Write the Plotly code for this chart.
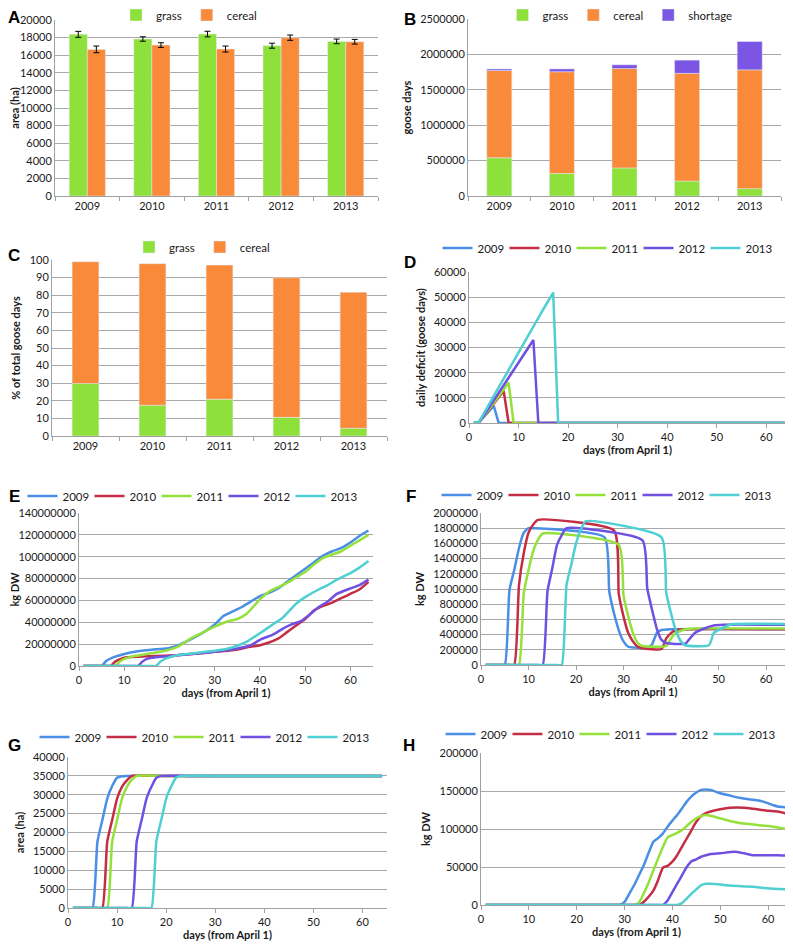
import plotly.graph_objects as go

# reference picture size; the page body adds an 8px margin, so the figure is drawn
# 8px smaller and every pixel position below is shifted by that offset
W, H = 793, 947
OFF = 8
FW, FH = W - OFF, H - OFF

years = ["2009", "2010", "2011", "2012", "2013"]

# A: area (ha) of grass and cereal with error bars
area_grass = [18370, 17840, 18400, 17080, 17570]
area_grass_err = [340, 250, 320, 285, 265]
area_cereal = [16660, 17150, 16700, 17990, 17530]
area_cereal_err = [380, 265, 340, 300, 265]

# B: goose days
gd_grass = [540000, 318000, 397000, 212000, 104000]
gd_cereal = [1232000, 1437000, 1403000, 1520000, 1678000]
gd_shortage = [22000, 40000, 53000, 187000, 400000]

# C: % of total goose days
pct_grass = [29.8, 17.5, 20.9, 10.6, 4.4]
pct_cereal = [69.2, 80.4, 76.2, 79.3, 77.3]

# D: daily deficit (goose days)
d_days_2009 = [1, 2, 3, 4, 5, 6, 64]
d_vals_2009 = [0, 300, 2400, 4600, 6800, 0, 0]
d_days_2010 = [1, 2, 3, 4, 5, 6, 7, 8, 64]
d_vals_2010 = [0, 300, 2600, 5100, 7600, 10100, 12700, 0, 0]
d_days_2011 = [1, 2, 3, 4, 5, 6, 7, 8, 9, 64]
d_vals_2011 = [0, 300, 2700, 5300, 8000, 10700, 13300, 16000, 0, 0]
d_days_2012 = [1, 2, 3, 4, 5, 6, 7, 8, 9, 10, 11, 12, 13, 14, 64]
d_vals_2012 = [0, 300, 3000, 6000, 9000, 12000, 15000, 18000, 21000, 24000, 27000, 30000, 33000, 0, 0]
d_days_2013 = [1, 2, 3, 4, 5, 6, 7, 8, 9, 10, 11, 12, 13, 14, 15, 16, 17, 18, 64]
d_vals_2013 = [0, 400, 3800, 7300, 10800, 14300, 17800, 21300, 24800, 28200, 31600, 35000,
               38400, 41800, 45200, 48600, 51800, 0, 0]

# E: cumulative consumption (kg DW, millions)
e_days_2009 = [1, 4, 5, 6, 8, 10, 13, 15, 18, 20, 22, 25, 28, 30, 32, 34, 36, 38, 40, 42, 44, 46, 48, 50, 52, 54, 56, 58, 60, 62, 64]
e_vals_2009 = [0, 0, 0, 4.5, 8.5, 11, 13.5, 14.5, 15.5, 16.5, 19, 25, 32, 38, 46, 50, 54, 59, 64, 67, 71, 77, 83, 89, 95, 101, 105, 108, 113, 119, 124]
e_days_2010 = [1, 6, 7, 8, 9, 10, 13, 15, 20, 25, 30, 33, 35, 37, 40, 42, 44, 46, 48, 50, 52, 54, 56, 58, 60, 62, 64]
e_vals_2010 = [0, 0, 0, 4, 6, 7.5, 8.5, 9, 9.5, 11, 13, 14, 15, 17, 19, 21.5, 25, 31, 37, 43, 51, 55, 58, 62, 66, 70, 77]
e_days_2011 = [1, 7, 8, 9, 10, 12, 15, 18, 20, 22, 25, 28, 30, 33, 35, 37, 40, 42, 44, 46, 48, 50, 52, 54, 56, 58, 60, 62, 64]
e_vals_2011 = [0, 0, 0, 4, 6.5, 9, 11, 13, 15, 18, 26, 32, 36, 41, 43, 47.5, 61, 68, 72, 76, 81, 86, 93, 99, 102, 105, 110, 115, 120]
e_days_2012 = [1, 12, 13, 14, 15, 17, 20, 25, 30, 35, 38, 40, 43, 45, 47, 49, 51, 53, 55, 57, 60, 62, 64]
e_vals_2012 = [0, 0, 0, 4, 6.5, 8, 9, 11, 13, 16, 19, 24, 29, 34, 38, 41, 47, 54, 59, 66, 71, 74, 79]
e_days_2013 = [1, 16, 17, 18, 19, 20, 22, 25, 30, 33, 35, 37, 40, 43, 45, 48, 50, 53, 55, 57, 60, 62, 64]
e_vals_2013 = [0, 0, 0, 4, 6.5, 8, 10, 11.5, 14, 16, 18.5, 22, 30, 38.5, 44, 57, 63, 70, 74, 79, 85, 90, 96]

# F: standing biomass (kg DW, millions)
f_days_2009 = [1, 4, 5, 6, 7, 8, 9, 10, 11, 26, 27, 28, 29, 30, 31, 32, 35, 36, 37, 38, 40, 64]
f_vals_2009 = [0, 0, 0, 0.99, 1.25, 1.54, 1.74, 1.80, 1.80, 1.68, 0.97, 0.68, 0.46, 0.31, 0.24, 0.23, 0.23, 0.27, 0.42, 0.46, 0.47, 0.47]
f_days_2010 = [1, 6, 7, 8, 9, 10, 11, 12, 28, 29, 30, 31, 32, 33, 34, 38, 39, 40, 41, 43, 64]
f_vals_2010 = [0, 0, 0, 1.05, 1.47, 1.74, 1.85, 1.91, 1.77, 0.94, 0.64, 0.42, 0.31, 0.24, 0.22, 0.21, 0.35, 0.42, 0.46, 0.47, 0.47]
f_days_2011 = [1, 7, 8, 9, 10, 11, 12, 13, 29, 30, 31, 32, 33, 34, 39, 40, 41, 43, 45, 64]
f_vals_2011 = [0, 0, 0, 0.94, 1.25, 1.50, 1.65, 1.73, 1.58, 0.92, 0.64, 0.42, 0.29, 0.25, 0.25, 0.35, 0.42, 0.47, 0.48, 0.48]
f_days_2012 = [1, 12, 13, 14, 15, 16, 17, 18, 34, 35, 36, 37, 38, 39, 43, 44, 45, 47, 49, 51, 64]
f_vals_2012 = [0, 0, 0, 0.97, 1.27, 1.58, 1.71, 1.80, 1.64, 1.01, 0.73, 0.48, 0.33, 0.29, 0.28, 0.35, 0.42, 0.48, 0.52, 0.53, 0.53]
f_days_2013 = [1, 16, 17, 18, 19, 20, 21, 22, 38, 39, 40, 41, 42, 43, 48, 49, 50, 52, 53, 64]
f_vals_2013 = [0, 0, 0, 1.05, 1.32, 1.60, 1.78, 1.89, 1.68, 0.95, 0.68, 0.46, 0.32, 0.26, 0.26, 0.42, 0.46, 0.52, 0.54, 0.54]

# G: area available (ha)
g_days_2009 = [1, 4, 5, 6, 7, 8, 9, 10, 11, 12, 20, 64]
g_vals_2009 = [0, 0, 0, 17600, 23300, 29000, 32300, 34500, 34900, 35000, 35000, 35000]
g_days_2010 = [1, 6, 7, 8, 9, 10, 11, 12, 13, 20, 64]
g_vals_2010 = [0, 0, 0, 17600, 23300, 29000, 32100, 33800, 35000, 35000, 35000]
g_days_2011 = [1, 7, 8, 9, 10, 11, 12, 13, 14, 20, 64]
g_vals_2011 = [0, 0, 0, 17600, 23300, 29000, 32100, 34000, 35000, 35000, 35000]
g_days_2012 = [1, 12, 13, 14, 15, 16, 17, 18, 19, 25, 64]
g_vals_2012 = [0, 0, 0, 17600, 23300, 29000, 32100, 34500, 35000, 35000, 35000]
g_days_2013 = [1, 16, 17, 18, 19, 20, 21, 22, 23, 30, 64]
g_vals_2013 = [0, 0, 0, 17600, 23300, 29000, 32100, 34500, 35000, 35000, 35000]

# H: kg DW (thousands)
h_days_2009 = [1, 28, 29, 30, 31, 32, 33, 34, 35, 36, 37, 38, 39, 40, 41, 42, 43, 44, 45, 46, 47, 48, 50, 52, 54, 56, 58, 59, 61, 62, 64]
h_vals_2009 = [0, 0, 0, 4, 15, 26, 39, 52, 68, 83, 88, 94, 103, 111, 118.5, 127, 136, 143, 148, 151.5, 152, 151.5, 147, 144, 141, 139, 137.5, 136, 131.5, 129.5, 128.5]
h_days_2010 = [1, 32, 33, 34, 35, 36, 37, 38, 39, 40, 41, 42, 43, 44, 45, 46, 47, 48, 50, 52, 55, 57, 60, 62, 64]
h_vals_2010 = [0, 0, 0, 4, 10.5, 18.5, 32.5, 49, 51.5, 57, 65.5, 76.5, 87.5, 98.5, 109.5, 117, 121, 123, 126, 128, 128, 126.5, 124, 123, 120]
h_days_2011 = [1, 31, 32, 33, 34, 35, 36, 37, 38, 39, 40, 41, 42, 43, 44, 45, 46, 47, 48, 50, 52, 54, 56, 58, 60, 62, 64]
h_vals_2011 = [0, 0, 0, 3, 15, 29, 45, 61, 76, 89, 92, 95, 98.5, 104, 109.5, 114, 117, 118.5, 117.5, 114, 110.5, 108, 106.5, 105, 104, 102, 100]
h_days_2012 = [1, 37, 38, 39, 40, 41, 42, 43, 44, 45, 46, 47, 48, 50, 53, 55, 57, 60, 62, 64]
h_vals_2012 = [0, 0, 0, 6, 17, 28, 39, 50, 57.5, 60, 63.5, 65.5, 67, 68, 70, 68, 65.5, 65.5, 65.5, 65]
h_days_2013 = [1, 40, 41, 42, 43, 44, 45, 46, 47, 48, 50, 52, 55, 57, 59, 61, 64]
h_vals_2013 = [0, 0, 0, 2.5, 8.5, 15, 20.5, 26, 28, 28, 27, 25.5, 24.5, 24, 22.5, 21.5, 20.5]

GREEN = "#8EE03A"
ORANGE = "#F98A3A"
PURPLE_BAR = "#7B55E3"
year_colors = ["#4A8FE5", "#C42E45", "#95E03A", "#7050E0", "#4FCFD2"]

GRID = "#A8A8A8"
AXIS = "#A0A0A0"
FONT = "Lato"
TXT = "#1a1a1a"


def px(x):
    return (x - OFF) / FW


def py(y):
    return 1 - (y - OFF) / FH


# pixel boxes of the plot areas in the reference: left, right, top, bottom
boxes = {
    1: (55, 378, 20, 196),
    2: (468, 781, 19, 196),
    3: (52, 387, 260, 436),
    4: (469, 786, 272, 423),
    5: (79, 373, 513, 666),
    6: (481, 785, 513, 665),
    7: (68, 387, 757, 908),
    8: (481, 792, 753, 905),
}

fig = go.Figure()


def ax_names(i):
    return ("x" if i == 1 else f"x{i}"), ("y" if i == 1 else f"y{i}")


def leg_name(i):
    return "legend" if i == 1 else f"legend{i}"


# A: grouped bars with error bars
xa, ya = ax_names(1)
fig.add_trace(go.Bar(x=years, y=area_grass, name="grass", marker_color=GREEN,
                     error_y=dict(type="data", array=area_grass_err, color="black", thickness=1, width=3),
                     xaxis=xa, yaxis=ya, legend=leg_name(1), offsetgroup="a1"))
fig.add_trace(go.Bar(x=years, y=area_cereal, name="cereal", marker_color=ORANGE,
                     error_y=dict(type="data", array=area_cereal_err, color="black", thickness=1, width=3),
                     xaxis=xa, yaxis=ya, legend=leg_name(1), offsetgroup="a2"))

# B and C: stacked bars (same offset group, each segment sits on the sum below it)
xa, ya = ax_names(2)
gd_base_shortage = [g + c for g, c in zip(gd_grass, gd_cereal)]
for vals, base, nm, col in [(gd_grass, None, "grass", GREEN),
                            (gd_cereal, gd_grass, "cereal", ORANGE),
                            (gd_shortage, gd_base_shortage, "shortage", PURPLE_BAR)]:
    fig.add_trace(go.Bar(x=years, y=vals, base=base, name=nm, marker_color=col, width=0.4,
                         xaxis=xa, yaxis=ya, legend=leg_name(2), offsetgroup="b"))

xa, ya = ax_names(3)
for vals, base, nm, col in [(pct_grass, None, "grass", GREEN), (pct_cereal, pct_grass, "cereal", ORANGE)]:
    fig.add_trace(go.Bar(x=years, y=vals, base=base, name=nm, marker_color=col, width=0.4,
                         xaxis=xa, yaxis=ya, legend=leg_name(3), offsetgroup="c"))

# line panels
line_panels = {
    4: ([d_days_2009, d_days_2010, d_days_2011, d_days_2012, d_days_2013],
        [d_vals_2009, d_vals_2010, d_vals_2011, d_vals_2012, d_vals_2013], 1, "linear"),
    5: ([e_days_2009, e_days_2010, e_days_2011, e_days_2012, e_days_2013],
        [e_vals_2009, e_vals_2010, e_vals_2011, e_vals_2012, e_vals_2013], 1e6, "spline"),
    6: ([f_days_2009, f_days_2010, f_days_2011, f_days_2012, f_days_2013],
        [f_vals_2009, f_vals_2010, f_vals_2011, f_vals_2012, f_vals_2013], 1e6, "spline"),
    7: ([g_days_2009, g_days_2010, g_days_2011, g_days_2012, g_days_2013],
        [g_vals_2009, g_vals_2010, g_vals_2011, g_vals_2012, g_vals_2013], 1, "spline"),
    8: ([h_days_2009, h_days_2010, h_days_2011, h_days_2012, h_days_2013],
        [h_vals_2009, h_vals_2010, h_vals_2011, h_vals_2012, h_vals_2013], 1000, "spline"),
}

for i, (days_list, vals_list, scale, shape) in line_panels.items():
    xa, ya = ax_names(i)
    for yr, col, dd, vv in zip(years, year_colors, days_list, vals_list):
        line = dict(color=col, width=2.5, shape=shape)
        if shape == "spline":
            line["smoothing"] = 0.5
        fig.add_trace(go.Scatter(x=dd, y=[v * scale for v in vv], mode="lines", name=yr,
                                 line=line, xaxis=xa, yaxis=ya, legend=leg_name(i)))

# axes
yranges = {1: (20000, 2000), 2: (2500000, 500000), 3: (100, 10), 4: (60000, 10000),
           5: (140000000, 20000000), 6: (2000000, 200000), 7: (40000, 5000), 8: (200000, 50000)}
xranges = {4: 64, 5: 65, 6: 64, 7: 65, 8: 65}
ytitles = {1: "area (ha)", 2: "goose days", 3: "% of total goose days", 4: "daily deficit (goose days)",
           5: "kg DW", 6: "kg DW", 7: "area (ha)", 8: "kg DW"}

layout = {}
for i, (l, r, t, b) in boxes.items():
    xk = "xaxis" if i == 1 else f"xaxis{i}"
    yk = "yaxis" if i == 1 else f"yaxis{i}"
    xa, ya = ax_names(i)
    xaxis = dict(domain=[px(l), px(r)], anchor=ya, showgrid=False, showline=True, linecolor=AXIS,
                 linewidth=1, ticks="outside", ticklen=4, tickcolor=AXIS, zeroline=False,
                 tickfont=dict(family=FONT, size=11, color=TXT), automargin=False)
    if i <= 3:
        xaxis.update(type="category", tickson="boundaries", range=[-0.5, 4.5])
    else:
        xaxis.update(range=[0, xranges[i]], dtick=10, tick0=0,
                     title=dict(text="<b>days (from April 1)</b>", standoff=4,
                                font=dict(family=FONT, size=11, color=TXT)))
    ymax, dt = yranges[i]
    yaxis = dict(domain=[py(b), py(t)], anchor=xa, range=[0, ymax], dtick=dt, tick0=0, tickformat="d",
                 showgrid=True, gridcolor=GRID, gridwidth=1, showline=True, linecolor=AXIS,
                 zeroline=False, ticks="", automargin=False,
                 tickfont=dict(family=FONT, size=11, color=TXT),
                 title=dict(text=f"<b>{ytitles[i]}</b>", standoff=6,
                            font=dict(family=FONT, size=11, color=TXT)))
    layout[xk] = xaxis
    layout[yk] = yaxis

# legends (centre positions in reference pixels)
leg_pos = {1: (189, 15), 2: (620, 15), 3: (202, 247), 4: (605, 248),
           5: (190, 496), 6: (604, 495), 7: (202, 737), 8: (608, 734)}
for i, (cx, cy) in leg_pos.items():
    lg = dict(x=px(cx), y=py(cy), xanchor="center", yanchor="middle", orientation="h",
              bgcolor="rgba(0,0,0,0)", font=dict(family=FONT, size=11.5, color=TXT),
              itemclick=False, itemdoubleclick=False, traceorder="normal",
              itemwidth=30, tracegroupgap=0)
    if i >= 4:
        lg.update(entrywidth=22, entrywidthmode="pixels")
    layout[leg_name(i)] = lg

# panel letters (left column kept clear of the page edge and of the tick labels)
letters = [("A", 14, 17), ("B", 410, 20), ("C", 14, 255), ("D", 410, 262),
           ("E", 14, 496), ("F", 411, 496), ("G", 14, 745), ("H", 409, 745)]
annotations = [dict(text=f"<b>{t}</b>", x=px(x), y=py(y), xref="paper", yref="paper",
                    showarrow=False, xanchor="center", yanchor="middle",
                    font=dict(family="Liberation Sans", size=17, color="black"))
               for t, x, y in letters]

fig.update_layout(
    width=FW, height=FH,
    margin=dict(l=0, r=0, t=0, b=0, autoexpand=False),
    paper_bgcolor="white", plot_bgcolor="white",
    barmode="group", bargap=0.44, bargroupgap=0,
    annotations=annotations,
    **layout,
)

fig.write_html("out.html")
